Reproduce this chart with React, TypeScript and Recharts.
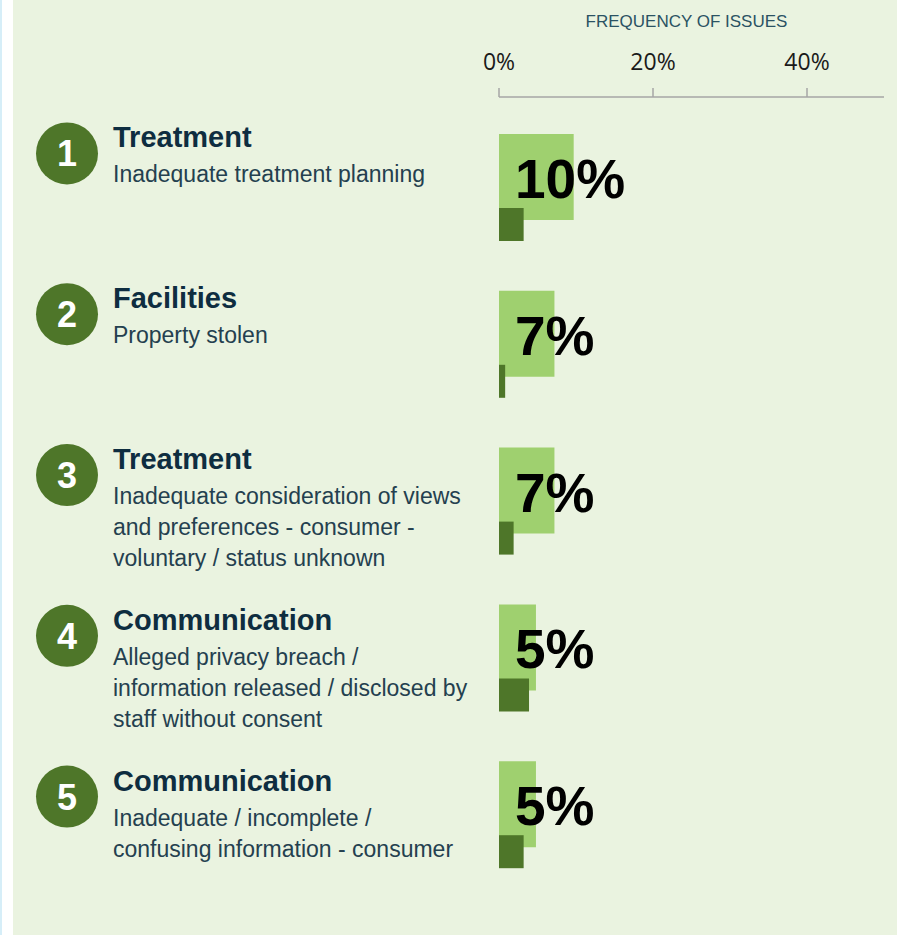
import { BarChart, Bar, XAxis, YAxis, LabelList, Label } from 'recharts';

const ranks = [1, 2, 3, 4, 5];
const issueTypes = ['Treatment', 'Facilities', 'Treatment', 'Communication', 'Communication'];
const issueDescriptions = [
    ['Inadequate treatment planning'],
    ['Property stolen'],
    ['Inadequate consideration of views', 'and preferences - consumer -', 'voluntary / status unknown'],
    ['Alleged privacy breach /', 'information released / disclosed by', 'staff without consent'],
    ['Inadequate / incomplete /', 'confusing information - consumer'],
];
const currentShare = [9.7, 7.2, 7.2, 4.8, 4.8];
const previousShare = [3.2, 0.8, 1.9, 3.9, 3.2];
const axisTicks = [0, 20, 40];

const data = ranks.map((rank, i) => ({
    rank,
    current: currentShare[i],
    previous: previousShare[i],
}));

const FONT = '"Liberation Sans", Arial, sans-serif';

// the text blocks drift down slightly relative to the bars as we go down the list
const IssueTick = (props: any) => {
    const { y, payload } = props;
    const i = payload.index;
    const cy = y - 34 + i * 4;
    const titleY = cy - 6;
    return (
        <g>
            <circle cx={67} cy={cy} r={31} fill="#4e7629" />
            <text x={67} y={cy + 13} textAnchor="middle" fill="#ffffff" fontSize={36} fontWeight="bold" fontFamily={FONT}>
                {ranks[i]}
            </text>
            <text x={113} y={titleY} fill="#0e2d40" fontSize={29} fontWeight="bold" fontFamily={FONT}>
                {issueTypes[i]}
            </text>
            {issueDescriptions[i].map((line, j) => (
                <text key={j} x={113} y={titleY + 35 + j * 31} fill="#24404f" fontSize={23} fontFamily={FONT}>
                    {line}
                </text>
            ))}
        </g>
    );
};

const ShareLabel = (props: any) => {
    const { x, y, height, value } = props;
    return (
        <text x={x + 16} y={y + height / 2 + 21} fill="#000000" fontSize={55} fontWeight="bold" fontFamily={FONT}>
            {Math.round(value)}%
        </text>
    );
};

const AxisTitle = (props: any) => {
    const { viewBox } = props;
    return (
        <text
            x={viewBox.x + viewBox.width / 2 - 5}
            y={viewBox.y + 27}
            textAnchor="middle"
            fill="#2b5263"
            fontSize={17}
            fontFamily={FONT}
        >
            FREQUENCY OF ISSUES
        </text>
    );
};

export default function App() {
    return (
        <div style={{ position: 'absolute', left: 0, top: 0, width: 897, height: 935, background: '#eaf3e0' }}>
            <div
                style={{
                    position: 'absolute',
                    left: 0,
                    top: 0,
                    width: 11,
                    height: 935,
                    background: '#ffffff',
                    borderLeft: '2px solid #d6eef8',
                }}
            />
            <div style={{ position: 'absolute', left: 0, top: 0 }}>
                <BarChart
                    width={897}
                    height={935}
                    data={data}
                    layout="vertical"
                    margin={{ top: 0, right: 13, bottom: 0, left: 0 }}
                    barGap={-12}
                >
                    <XAxis
                        type="number"
                        orientation="top"
                        domain={[0, 50]}
                        ticks={axisTicks}
                        tickFormatter={(v) => `${v}%`}
                        height={97}
                        tickSize={9}
                        tickMargin={18}
                        axisLine={{ stroke: '#a6a6a6', strokeWidth: 1.5 }}
                        tickLine={{ stroke: '#a6a6a6', strokeWidth: 1.5 }}
                        tick={{ fill: '#1a1a1a', fontSize: 23, fontFamily: '"Open Sans", sans-serif' }}
                    >
                        <Label content={<AxisTitle />} />
                    </XAxis>
                    <YAxis
                        type="category"
                        dataKey="rank"
                        width={499}
                        axisLine={false}
                        tickLine={false}
                        padding={{ top: 12, bottom: 42 }}
                        tick={<IssueTick />}
                        interval={0}
                    />
                    <Bar dataKey="current" fill="#9fd06f" barSize={86} isAnimationActive={false}>
                        <LabelList dataKey="current" content={<ShareLabel />} />
                    </Bar>
                    <Bar dataKey="previous" fill="#4e7629" barSize={33} isAnimationActive={false} />
                </BarChart>
            </div>
        </div>
    );
}
